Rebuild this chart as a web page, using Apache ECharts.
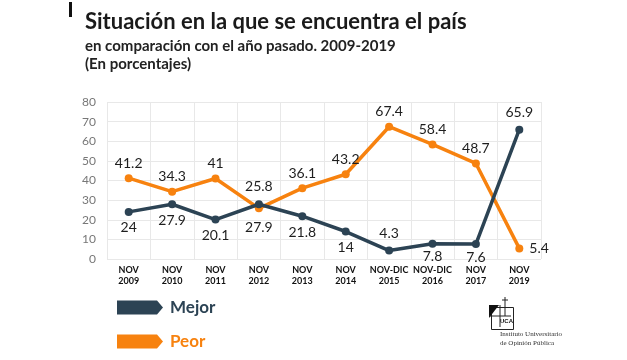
<!DOCTYPE html>
<html>
<head>
<meta charset="utf-8">
<script src="https://cdn.jsdelivr.net/npm/echarts@6/dist/echarts.min.js"></script>
<style>
  html, body { margin: 0; padding: 0; background: #fff; }
  #chart { width: 627px; height: 360px; }
</style>
</head>
<body>
<div id="chart"></div>
<script>
	/* ---------------------------------------------
     Data
--------------------------------------------- */
	const categories = ['NOV\n2009', 'NOV\n2010', 'NOV\n2011', 'NOV\n2012', 'NOV\n2013', 'NOV\n2014', 'NOV-DIC\n2015', 'NOV-DIC\n2016', 'NOV\n2017', 'NOV\n2019'];
	const mejor = [24, 27.9, 20.1, 27.9, 21.8, 14, 4.3, 7.8, 7.6, 65.9];
	const peor = [41.2, 34.3, 41, 25.8, 36.1, 43.2, 67.4, 58.4, 48.7, 5.4];

	const navy = '#2c4354';
	const orange = '#f7820f';
	const arrow = 'path://M0,0 L40,0 L46,7 L40,14 L0,14 Z';

	// label placement tweaks per point
	const mejorPos = { 6: ['top', 6], 9: ['top', 6] };
	const mejorDist = { 3: 12, 7: 2, 8: 2 };
	const peorPos = { 9: ['right', 6] };
	const peorDist = { 3: 11 };

	function validate(v, d) {
		if (v !== undefined) {
			return v;
		}
		return d;
	}
	function buildData(values, defPos, defDist, posMap, distMap) {
		return values.map((v, i) => {
			const p = posMap[i];
			return {
				value: v,
				label: {
					position: p ? p[0] : defPos,
					distance: p ? p[1] : validate(distMap[i], defDist),
				},
			};
		});
	}

	/* ---------------------------------------------
     Chart
--------------------------------------------- */
	const chart = echarts.init(document.getElementById('chart'));
	const labelStyle = {
		show: true,
		fontFamily: 'Lato',
		fontSize: 14,
		color: '#1e1e1e',
	};
	const legendText = { fontFamily: 'Lato', fontWeight: 'bold', fontSize: 17, padding: [0, 0, 0, 2] };

	chart.setOption({
		animation: false,
		textStyle: { fontFamily: 'Lato' },
		grid: { left: 107, right: 86, top: 102, bottom: 101 },
		xAxis: {
			type: 'category',
			data: categories,
			boundaryGap: true,
			axisLine: { show: false },
			axisTick: { show: false },
			splitLine: { show: true, lineStyle: { color: '#e8e8e8' } },
			axisLabel: {
				fontFamily: 'Lato',
				fontWeight: 'bold',
				fontSize: 9,
				lineHeight: 11,
				color: '#111',
				margin: 6,
				interval: 0,
			},
		},
		yAxis: {
			type: 'value',
			min: 0,
			max: 80,
			interval: 10,
			axisLine: { show: false },
			axisTick: { show: false },
			splitLine: { lineStyle: { color: '#e8e8e8' } },
			axisLabel: { fontFamily: 'Lato', fontSize: 12, color: '#777', margin: 11 },
		},
		legend: [
			{
				left: 112, top: 294, itemWidth: 46, itemHeight: 14, selectedMode: false,
				data: [{ name: 'Mejor', icon: arrow, textStyle: { color: navy } }],
				textStyle: legendText,
			},
			{
				left: 112, top: 328, itemWidth: 46, itemHeight: 14, selectedMode: false,
				data: [{ name: 'Peor', icon: arrow, textStyle: { color: orange } }],
				textStyle: legendText,
			},
		],
		series: [
			{
				name: 'Mejor',
				type: 'line',
				data: buildData(mejor, 'bottom', 5, mejorPos, mejorDist),
				symbol: 'circle',
				symbolSize: 8,
				lineStyle: { width: 3.5, color: navy },
				itemStyle: { color: navy },
				label: labelStyle,
				z: 3,
			},
			{
				name: 'Peor',
				type: 'line',
				data: buildData(peor, 'top', 4, peorPos, peorDist),
				symbol: 'circle',
				symbolSize: 8,
				lineStyle: { width: 3.5, color: orange },
				itemStyle: { color: orange },
				label: labelStyle,
				z: 2,
			},
		],
		graphic: [
			// title block
			{ type: 'rect', left: 69, top: 2, shape: { width: 3, height: 15 }, style: { fill: '#111' } },
			{
				type: 'text', left: 85, top: 11,
				style: { text: 'Situación en la que se encuentra el país', fontFamily: 'Lato', fontWeight: 'bold', fontSize: 22, fill: '#1a1a1a' },
			},
			{
				type: 'text', left: 85, top: 39,
				style: { text: 'en comparación con el año pasado. 2009-2019', fontFamily: 'Lato', fontWeight: 'bold', fontSize: 15, fill: '#222' },
			},
			{
				type: 'text', left: 85, top: 57,
				style: { text: '(En porcentajes)', fontFamily: 'Lato', fontWeight: 'bold', fontSize: 15, fill: '#222' },
			},
			// logo
			{ type: 'rect', left: 489, top: 305, shape: { width: 22, height: 22 }, style: { fill: 'none', stroke: '#222', lineWidth: 1 } },
			{ type: 'polygon', shape: { points: [[489, 305], [499, 305], [489, 318]] }, style: { fill: '#111' } },
			{ type: 'line', shape: { x1: 500, y1: 305, x2: 500, y2: 327 }, style: { stroke: '#222', lineWidth: 1 } },
			{ type: 'line', shape: { x1: 489, y1: 316, x2: 511, y2: 316 }, style: { stroke: '#222', lineWidth: 1 } },
			{ type: 'line', shape: { x1: 505, y1: 297, x2: 505, y2: 316 }, style: { stroke: '#222', lineWidth: 1 } },
			{ type: 'line', shape: { x1: 502, y1: 300, x2: 508, y2: 300 }, style: { stroke: '#222', lineWidth: 1 } },
			{
				type: 'text', left: 500, top: 318,
				style: { text: 'UCA', fontFamily: 'Liberation Sans', fontWeight: 'bold', fontSize: 6, fill: '#111' },
			},
			{
				type: 'text', left: 500, top: 330,
				style: { text: 'Instituto Universitario\nde Opinión Pública', align: 'center', fontFamily: 'Liberation Serif', fontSize: 7, lineHeight: 9, fill: '#333' },
			},
		],
	});
</script>
</body>
</html>
